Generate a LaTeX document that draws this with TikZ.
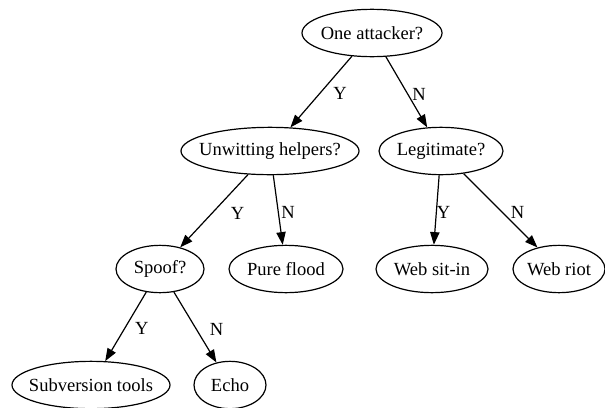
\documentclass[tikz,border=0pt]{standalone}
\usepackage{fontspec}
\setmainfont{Liberation Serif}
\usepackage{tikz}
\usetikzlibrary{shapes.geometric,arrows.meta}

\begin{document}
\begin{tikzpicture}[x=0.75pt, y=-0.75pt,
    decision/.style={draw, ellipse, line width=0.9pt, inner xsep=-30pt, inner ysep=0pt,
        minimum height=35.5pt, font=\fontsize{13.9}{16}\selectfont},
    branch/.style={line width=0.9pt, -{Triangle[length=9.5pt, width=7pt]}},
    answer/.style={font=\fontsize{13.9}{16}\selectfont, inner sep=0pt}]
    \useasboundingbox (0,0) rectangle (605,407);

    % Questions and outcomes
    \foreach \name/\x/\y/\w/\txt in {
        att/372/33/140/{One attacker?},
        unw/270/151/178/{Unwitting helpers?},
        leg/441/151/124/{Legitimate?},
        spf/160/269/88/{Spoof?},
        pure/286/269/114/{Pure flood},
        sitin/432/269/112/{Web sit-in},
        riot/559/269/92/{Web riot},
        subv/91/385/158/{Subversion tools},
        echo/230/385/72/{Echo}%
    } {
        \node[decision, minimum width=\w*0.75pt] (\name) at (\x,\y) {\txt};
    }

    % Yes/no branches
    \foreach \from/\to/\ans/\dx in {
        att/unw/Y/19,
        att/leg/N/12.5,
        unw/spf/Y/23.5,
        unw/pure/N/10,
        leg/sitin/Y/7,
        leg/riot/N/17,
        spf/subv/Y/16,
        spf/echo/N/21.5%
    } {
        \draw[branch] (\from) -- node[answer, xshift=\dx*0.75pt, yshift=-1.5pt] {\ans} (\to);
    }
\end{tikzpicture}
\end{document}
